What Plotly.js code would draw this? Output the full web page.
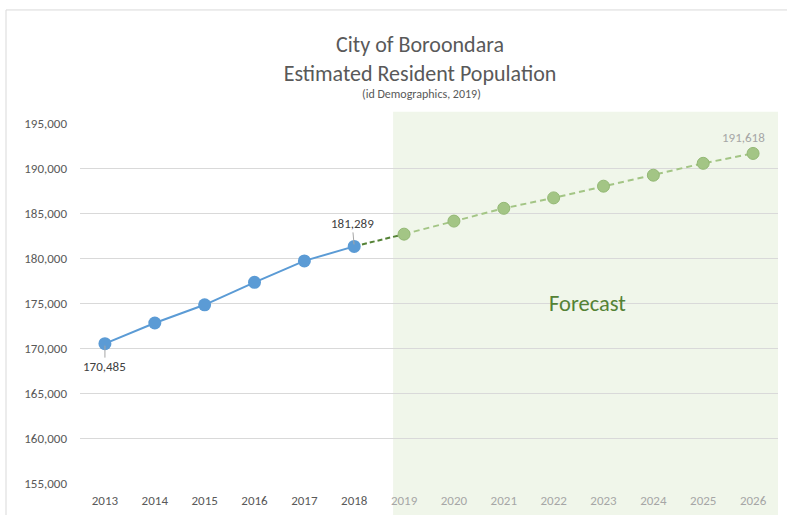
<!DOCTYPE html>
<html>
<head>
<meta charset="utf-8">
<script src="https://cdn.plot.ly/plotly-3.0.1.min.js"></script>
<style>html,body{margin:0;padding:0;background:#fff;}#chart{width:787px;height:515px;}</style>
</head>
<body>
<div id="chart"></div>
<script>
const years = ['2013','2014','2015','2016','2017','2018','2019','2020','2021','2022','2023','2024','2025','2026'];
const histYears = ['2013','2014','2015','2016','2017','2018'];
const histValues = [170485, 172780, 174800, 177300, 179680, 181289];
const fcYears = ['2019','2020','2021','2022','2023','2024','2025','2026'];
const fcValues = [182650, 184100, 185520, 186680, 187980, 189200, 190520, 191618];
const yTicks = [155000,160000,165000,170000,175000,180000,185000,190000,195000];

const FONT = "Carlito, Calibri, 'Liberation Sans', Arial, sans-serif";
const tickText = years.map((y,i)=> i<6 ? '<span style="color:#595959">'+y+'</span>' : '<span style="color:#A6A6A6">'+y+'</span>');

const traces = [
  {x:[histYears[histYears.length-1], fcYears[0]], y:[histValues[histValues.length-1], fcValues[0]],
   mode:'lines', line:{color:'#548235', width:2, dash:'5px,3px'}, hoverinfo:'skip', cliponaxis:false},
  {x:fcYears, y:fcValues, mode:'lines+markers',
   line:{color:'#A3C585', width:2, dash:'6px,4px'},
   marker:{size:12, color:'#A3C585', line:{color:'#93B874', width:1}}, cliponaxis:false},
  {x:histYears, y:histValues, mode:'lines+markers',
   line:{color:'#5B9BD5', width:2},
   marker:{size:13, color:'#5B9BD5'}, cliponaxis:false}
];

const fmt = v => v.toLocaleString('en-US');
const idx = y => years.indexOf(y);

const layout = {
  width:787, height:515,
  margin:{l:80, r:9, t:123, b:32},
  paper_bgcolor:'#ffffff', plot_bgcolor:'rgba(0,0,0,0)',
  showlegend:false,
  font:{family:FONT, color:'#595959', size:13},
  title:{text:'City of Boroondara<br>Estimated Resident Population', font:{family:FONT, size:22, color:'#595959'},
         x:420/787, xanchor:'center', xref:'container', y:1-52/515, yanchor:'top', yref:'container'},
  xaxis:{type:'category', categoryorder:'array', categoryarray:years, range:[-0.5,13.5],
         tickvals:years, ticktext:tickText, showgrid:false, showline:false, zeroline:false,
         ticks:'', ticklabelstandoff:8, tickfont:{size:13}, fixedrange:true},
  yaxis:{range:[155000,195000], tickvals:yTicks, tickformat:',d', showgrid:true, gridcolor:'#D9D9D9', gridwidth:1,
         zeroline:false, showline:false, ticks:'', ticklabelstandoff:12, tickfont:{size:13, color:'#595959'}, fixedrange:true},
  shapes:[
    {type:'rect', layer:'below', xref:'x', yref:'paper', x0:5.78, x1:13.56, y0:-0.1, y1:1.031,
     fillcolor:'#F0F6EA', line:{width:0}},
    {type:'rect', layer:'above', xref:'paper', yref:'paper', x0:-0.106, x1:1.05, y0:-0.2, y1:1.314,
     fillcolor:'rgba(0,0,0,0)', line:{color:'#D9D9D9', width:1}}
  ],
  annotations:[
    {text:'(id Demographics, 2019)', xref:'paper', yref:'paper', x:(421-80)/698, y:1+(123-94)/360,
     showarrow:false, font:{size:12, color:'#595959'}, xanchor:'center', yanchor:'middle'},
    {text:fmt(histValues[0]), x:idx(histYears[0]), y:histValues[0], xref:'x', yref:'y', showarrow:true, arrowhead:0, arrowwidth:1,
     arrowcolor:'#A6A6A6', ax:0, ay:23, standoff:2, font:{size:13, color:'#404040'}},
    {text:fmt(histValues[5]), x:idx(histYears[5]), y:histValues[5], xref:'x', yref:'y', showarrow:true, arrowhead:0, arrowwidth:1,
     arrowcolor:'#A6A6A6', ax:-2, ay:-23, standoff:2, font:{size:13, color:'#404040'}},
    {text:fmt(fcValues[7]), x:idx(fcYears[7]), y:fcValues[7], xref:'x', yref:'y', showarrow:false, xshift:-10, yshift:16,
     font:{size:13, color:'#A6A6A6'}},
    {text:'Forecast', x:9.67, y:175000, xref:'x', yref:'y', showarrow:false, font:{size:22.5, color:'#548235'}}
  ]
};

Plotly.newPlot('chart', traces, layout, {displayModeBar:false, staticPlot:true});
</script>
</body>
</html>
